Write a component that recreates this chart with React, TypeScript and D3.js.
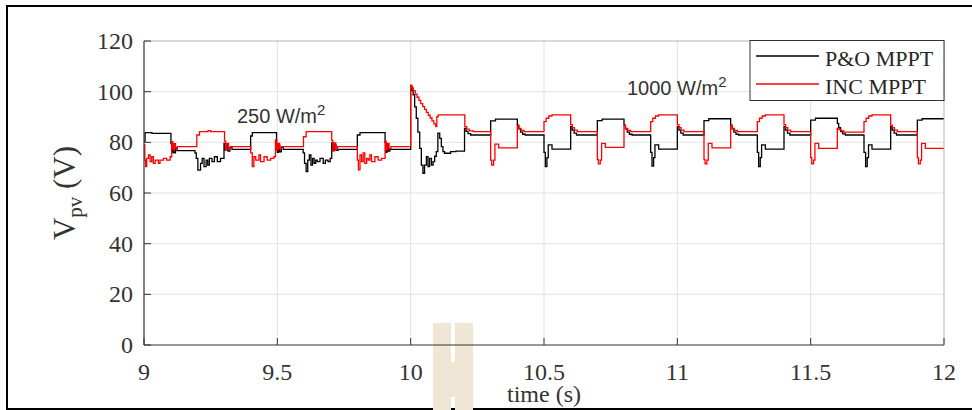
import React from 'react';
import * as d3 from 'd3';

const xTicks = [9, 9.5, 10, 10.5, 11, 11.5, 12];
const yTicks = [0, 20, 40, 60, 80, 100, 120];
const seriesNames = ['P&O MPPT', 'INC MPPT'];

const poData: [number, number][] = [
  [9.000, 80.5], [9.004, 83.8], [9.030, 83.5],
  [9.101, 79.5], [9.104, 76.0], [9.108, 79.0], [9.112, 75.8], [9.118, 77.8], [9.124, 76.7],
  [9.191, 75.8], [9.196, 73.7], [9.202, 69.0], [9.212, 71.7], [9.218, 73.7], [9.225, 70.4], [9.233, 73.0], [9.239, 71.0], [9.245, 73.7], [9.255, 72.4], [9.264, 74.3], [9.275, 72.4], [9.287, 73.7],
  [9.300, 79.6], [9.305, 77.0], [9.310, 79.0], [9.315, 76.5], [9.322, 78.0], [9.330, 77.2],
  [9.400, 82.5], [9.406, 83.8],
  [9.497, 79.5], [9.500, 76.0], [9.504, 79.2], [9.509, 76.2], [9.515, 78.0], [9.522, 77.2],
  [9.597, 75.8], [9.602, 71.7], [9.608, 68.4], [9.614, 73.0], [9.620, 75.0], [9.626, 71.0], [9.632, 73.7], [9.638, 71.7], [9.644, 73.0], [9.650, 72.4], [9.660, 73.7], [9.672, 71.7], [9.680, 73.0], [9.690, 72.4], [9.698, 73.7],
  [9.704, 79.8], [9.709, 77.0], [9.714, 79.0], [9.720, 76.8], [9.728, 77.2],
  [9.800, 82.9], [9.810, 83.8],
  [9.904, 80.0], [9.907, 76.0], [9.911, 79.0], [9.916, 76.5], [9.922, 77.2],
  [10.000, 102.2], [10.005, 100.5], [10.009, 98.7], [10.015, 94.0], [10.021, 89.5], [10.027, 84.0], [10.034, 77.6], [10.040, 71.0], [10.046, 67.8], [10.052, 71.0], [10.059, 74.3], [10.065, 70.4], [10.071, 73.7], [10.078, 71.0], [10.084, 72.4], [10.090, 74.5], [10.096, 76.3], [10.102, 83.6], [10.109, 81.6], [10.115, 78.3], [10.121, 76.3], [10.127, 75.7], [10.150, 76.3], [10.170, 76.5],
  [10.202, 85.5], [10.208, 84.3], [10.215, 83.4], [10.225, 82.9],
  [10.300, 88.5], [10.318, 89.2],
  [10.400, 86.8], [10.405, 85.3], [10.412, 84.0], [10.420, 83.2], [10.430, 82.9],
  [10.500, 76.0], [10.505, 70.4], [10.511, 74.0], [10.516, 79.0], [10.530, 77.3],
  [10.600, 86.2], [10.606, 84.8], [10.613, 83.6], [10.622, 82.9],
  [10.700, 88.6], [10.718, 89.2],
  [10.800, 86.8], [10.805, 85.3], [10.812, 84.0], [10.820, 83.2], [10.830, 82.9],
  [10.900, 76.0], [10.905, 70.6], [10.911, 74.0], [10.916, 79.0], [10.930, 77.3],
  [11.000, 86.2], [11.006, 84.8], [11.013, 83.6], [11.022, 82.9],
  [11.100, 88.6], [11.118, 89.3],
  [11.200, 86.8], [11.205, 85.3], [11.212, 84.0], [11.220, 83.2], [11.230, 82.9],
  [11.300, 76.0], [11.305, 70.4], [11.311, 74.0], [11.316, 79.0], [11.330, 77.3],
  [11.400, 86.2], [11.406, 84.8], [11.413, 83.6], [11.422, 82.9],
  [11.500, 88.8], [11.518, 89.5],
  [11.600, 87.5], [11.605, 85.8], [11.612, 84.2], [11.620, 83.3], [11.630, 82.9],
  [11.700, 76.0], [11.706, 70.4], [11.712, 74.0], [11.717, 79.0], [11.730, 77.3],
  [11.800, 86.2], [11.806, 84.8], [11.813, 83.6], [11.822, 82.9],
  [11.900, 88.8], [11.918, 89.3],
  [12.000, 89.3],
];

const incData: [number, number][] = [
  [9.000, 79.0], [9.003, 73.0], [9.006, 70.4], [9.010, 73.7], [9.017, 75.0], [9.023, 72.4], [9.029, 74.3], [9.035, 71.7], [9.042, 73.0], [9.054, 71.7], [9.060, 73.0], [9.073, 73.7], [9.085, 73.0], [9.098, 74.3],
  [9.104, 80.3], [9.108, 77.0], [9.112, 79.5], [9.118, 77.5], [9.124, 78.3],
  [9.198, 82.9], [9.208, 84.2], [9.240, 84.6], [9.250, 84.2],
  [9.302, 80.5], [9.306, 77.0], [9.311, 79.6], [9.317, 77.5], [9.325, 78.3],
  [9.400, 75.8], [9.406, 70.4], [9.412, 74.3], [9.419, 73.0], [9.431, 75.0], [9.437, 72.4], [9.450, 74.3], [9.462, 73.0], [9.475, 73.7], [9.487, 74.3],
  [9.493, 81.0], [9.498, 77.0], [9.503, 79.6], [9.508, 77.5], [9.515, 78.3],
  [9.598, 82.2], [9.608, 84.2],
  [9.704, 80.8], [9.708, 76.5], [9.713, 79.8], [9.719, 77.2], [9.726, 78.3],
  [9.800, 73.0], [9.804, 69.1], [9.810, 75.0], [9.816, 72.4], [9.822, 75.8], [9.828, 71.7], [9.835, 73.7], [9.841, 73.0], [9.847, 75.0], [9.853, 72.4], [9.866, 74.3], [9.878, 73.0], [9.891, 73.7],
  [9.904, 80.5], [9.908, 77.0], [9.913, 79.6], [9.919, 77.5], [9.926, 78.3],
  [10.000, 102.6], [10.004, 101.5], [10.010, 100.4], [10.017, 99.0], [10.024, 97.8], [10.031, 96.6], [10.038, 95.3], [10.045, 94.1], [10.052, 93.0], [10.059, 91.8], [10.066, 90.7], [10.073, 89.6], [10.080, 88.5], [10.087, 87.3], [10.094, 86.2],
  [10.098, 90.1], [10.103, 90.8],
  [10.203, 86.2], [10.210, 85.2], [10.220, 84.5], [10.235, 84.2],
  [10.300, 73.0], [10.304, 71.0], [10.311, 73.0], [10.316, 79.3], [10.330, 77.8],
  [10.400, 86.6], [10.406, 85.5], [10.414, 84.7], [10.425, 84.2],
  [10.500, 88.2], [10.508, 89.5], [10.518, 90.4], [10.530, 90.8],
  [10.600, 87.0], [10.606, 85.8], [10.614, 84.8], [10.625, 84.2],
  [10.700, 73.2], [10.704, 71.5], [10.711, 73.0], [10.716, 79.6], [10.730, 78.0],
  [10.800, 86.6], [10.806, 85.5], [10.814, 84.7], [10.825, 84.2],
  [10.900, 88.2], [10.908, 89.5], [10.918, 90.4], [10.930, 90.8],
  [11.000, 87.0], [11.006, 85.8], [11.014, 84.8], [11.025, 84.2],
  [11.100, 73.2], [11.104, 71.5], [11.111, 73.0], [11.116, 79.6], [11.130, 77.8],
  [11.200, 86.6], [11.206, 85.5], [11.214, 84.7], [11.225, 84.2],
  [11.300, 88.2], [11.308, 89.5], [11.318, 90.4], [11.330, 90.8],
  [11.400, 87.0], [11.406, 85.8], [11.414, 84.8], [11.425, 84.2],
  [11.500, 74.0], [11.504, 71.5], [11.511, 73.0], [11.516, 79.6], [11.530, 77.6],
  [11.600, 85.5], [11.606, 85.0], [11.614, 84.5], [11.625, 84.0],
  [11.700, 88.2], [11.708, 89.5], [11.718, 90.4], [11.730, 90.8],
  [11.800, 86.8], [11.806, 85.8], [11.814, 84.8], [11.825, 84.2],
  [11.900, 74.0], [11.904, 71.5], [11.911, 73.0], [11.916, 79.6], [11.930, 77.6],
  [12.000, 77.6],
];

const SERIF = '"Liberation Serif", "Times New Roman", serif';
const SANS = '"Liberation Sans", Arial, sans-serif';
const AX = '#333333';

export default function App() {
  const x = d3.scaleLinear().domain([9, 12]).range([144, 944]);
  const y = d3.scaleLinear().domain([0, 120]).range([345, 41]);
  const line = d3
    .line<[number, number]>()
    .x((d) => x(d[0]))
    .y((d) => y(d[1]))
    .curve(d3.curveStepAfter);
  const [x0, x1] = x.range();
  const [y0, y1] = y.range();
  const fmt = (v: number) => String(v);

  return (
    <svg
      width={972}
      height={410}
      viewBox="0 0 972 410"
      style={{ position: 'absolute', left: 0, top: 0, background: '#fff' }}
    >
      <rect x={0} y={0} width={972} height={410} fill="#fff" />
      {/* outer frame */}
      <rect x={7} y={6} width={1000} height={403} fill="none" stroke="#000" strokeWidth={2} />

      {/* watermark shape */}
      <g fill="#efe6d5">
        <rect x={433} y={323} width={18} height={88} />
        <rect x={455} y={323} width={18} height={88} />
        <rect x={451} y={362} width={4} height={35} />
      </g>

      <defs>
        <clipPath id="plotclip">
          <rect x={x0} y={y1 - 2} width={x1 - x0} height={y0 - y1 + 4} />
        </clipPath>
      </defs>

      {/* grid */}
      <g stroke="#e3e3e3" strokeWidth={1}>
        {xTicks.slice(1, -1).map((t) => (
          <line key={'gx' + t} x1={x(t)} x2={x(t)} y1={y1} y2={y0} />
        ))}
        {yTicks.slice(1, -1).map((t) => (
          <line key={'gy' + t} x1={x0} x2={x1} y1={y(t)} y2={y(t)} />
        ))}
      </g>

      {/* data */}
      <g clipPath="url(#plotclip)" fill="none" strokeLinejoin="miter">
        <path d={line(poData) || ''} stroke="#000" strokeWidth={1.3} />
        <path d={line(incData) || ''} stroke="#ff0000" strokeWidth={1.3} />
      </g>

      {/* axes box */}
      <line x1={x0} x2={x1} y1={y1} y2={y1} stroke="#b5b5b5" strokeWidth={1} />
      <line x1={x1} x2={x1} y1={y1} y2={y0} stroke="#b5b5b5" strokeWidth={1} />
      <line x1={x0} x2={x0} y1={y1} y2={y0} stroke={AX} strokeWidth={1.2} />
      <line x1={x0} x2={x1} y1={y0} y2={y0} stroke={AX} strokeWidth={1.2} />

      {/* ticks */}
      <g stroke={AX} strokeWidth={1}>
        {xTicks.map((t) => (
          <line key={'tx' + t} x1={x(t)} x2={x(t)} y1={y0} y2={y0 - 7} />
        ))}
        {yTicks.map((t) => (
          <line key={'ty' + t} x1={x0} x2={x0 + 7} y1={y(t)} y2={y(t)} />
        ))}
      </g>

      {/* tick labels */}
      <g fontFamily={SERIF} fontSize={24} fill={AX}>
        {xTicks.map((t) => (
          <text key={'lx' + t} x={x(t)} y={380} textAnchor="middle">
            {fmt(t)}
          </text>
        ))}
        {yTicks.map((t) => (
          <text key={'ly' + t} x={133} y={y(t)} dy="0.33em" textAnchor="end">
            {fmt(t)}
          </text>
        ))}
      </g>

      {/* axis labels */}
      <text x={544} y={402} textAnchor="middle" fontFamily={SERIF} fontSize={24} fill={AX}>
        time (s)
      </text>
      <text
        transform="translate(75,193) rotate(-90)"
        textAnchor="middle"
        fontFamily={SERIF}
        fontSize={31}
        fill={AX}
      >
        V<tspan fontSize={21} dy={7}>pv</tspan>
        <tspan dy={-7}> (V)</tspan>
      </text>

      {/* annotations */}
      <text x={237} y={123} fontFamily={SANS} fontSize={20} fill={AX}>
        250 W/m<tspan fontSize={15} dy={-8}>2</tspan>
      </text>
      <text x={627} y={95} fontFamily={SANS} fontSize={20} fill={AX}>
        1000 W/m<tspan fontSize={15} dy={-8}>2</tspan>
      </text>

      {/* legend */}
      <rect x={750} y={40.5} width={194} height={60} fill="#fff" stroke={AX} strokeWidth={1} />
      <line x1={756} x2={819} y1={56} y2={56} stroke="#000" strokeWidth={1.3} />
      <line x1={756} x2={819} y1={84} y2={84} stroke="#ff0000" strokeWidth={1.3} />
      <g fontFamily={SERIF} fontSize={22} fill="#262626">
        <text x={825} y={66}>{seriesNames[0]}</text>
        <text x={825} y={94}>{seriesNames[1]}</text>
      </g>
    </svg>
  );
}
